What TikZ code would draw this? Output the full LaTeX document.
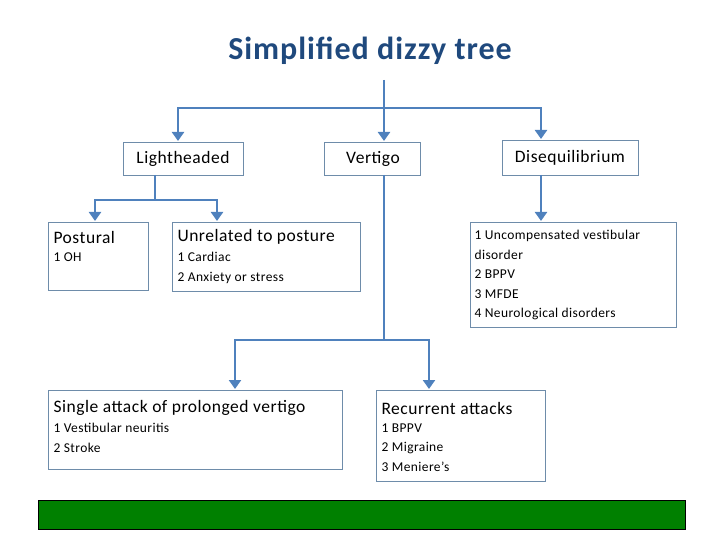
\documentclass[tikz,border=0pt]{standalone}
\usepackage{fontspec}
\setmainfont{Carlito}[LetterSpace=3]
\usetikzlibrary{arrows.meta}
\definecolor{ln}{RGB}{79,129,189}
\definecolor{tt}{RGB}{31,73,125}
\definecolor{bx}{RGB}{110,140,170}
\definecolor{gr}{RGB}{0,128,0}
\begin{document}
\begin{tikzpicture}[x=1pt,y=-1pt,
 box/.style={draw=bx,line width=0.8pt},
 big/.style={anchor=west,font=\fontsize{17.5}{20}\selectfont},
 sm/.style={anchor=north west,font=\fontsize{13.5}{19.5}\selectfont,align=left},
 conn/.style={draw=ln,line width=2.6pt},
 arr/.style={conn,-{Triangle[length=9pt,width=12pt]}}]
\useasboundingbox (0,0) rectangle (720,540);
\node[font=\bfseries\fontsize{32}{36}\selectfont,text=tt] (title) at (370,51) {Simplified dizzy tree};
% boxes
\draw[box] (123,142) rectangle (243,175); \node[font=\fontsize{17.5}{20}\selectfont] (lh) at (183,159) {Lightheaded};
\draw[box] (324,142) rectangle (420,175); \node[font=\fontsize{17.5}{20}\selectfont] (vt) at (373,159) {Vertigo};
\draw[box] (502,140) rectangle (638,175); \node[font=\fontsize{17.5}{20}\selectfont] (de) at (570,158) {Disequilibrium};
\draw[box] (48,222) rectangle (148,290); \node[big] (po) at (50,237) {Postural}; \node[sm] (poi) at (50,249) {1 OH};
\draw[box] (172,222) rectangle (360,291); \node[big] (un) at (174,237) {Unrelated to posture}; \node[sm] (uni) at (174,249) {1 Cardiac\\2 Anxiety or stress};
\draw[box] (470,222) rectangle (676,327); \node[sm] (di) at (471,227) {1 Uncompensated vestibular\\disorder\\2 BPPV\\3 MFDE\\4 Neurological disorders};
\draw[box] (48,390) rectangle (342,469); \node[big] (sa) at (50,408) {Single attack of prolonged vertigo}; \node[sm] (sai) at (50,420) {1 Vestibular neuritis\\2 Stroke};
\draw[box] (376,390) rectangle (545,481); \node[big] (ra) at (378,408) {Recurrent attacks}; \node[sm] (rai) at (378,420) {1 BPPV\\2 Migraine\\3 Meniere’s};
\fill[gr,draw=black,line width=0.6pt] (38,500) rectangle (685,529);
% connectors
\coordinate (t0) at (384,80); \coordinate (t1) at (384,108);
\draw[conn] (t0) -- (t1);
\draw[arr] (t1) -| (178,141);
\draw[arr] (t1) -- (384,141);
\draw[arr] (t1) -| (541,139);
\draw[conn] (155,175) -- (155,200);
\draw[arr] (155,200) -| (95,221);
\draw[arr] (155,200) -| (217,221);
\draw[arr] (541,175) -- (541,221);
\draw[conn] (384,175) -- (384,340);
\draw[arr] (384,340) -| (235,389);
\draw[arr] (384,340) -| (429,389);
\end{tikzpicture}
\end{document}
